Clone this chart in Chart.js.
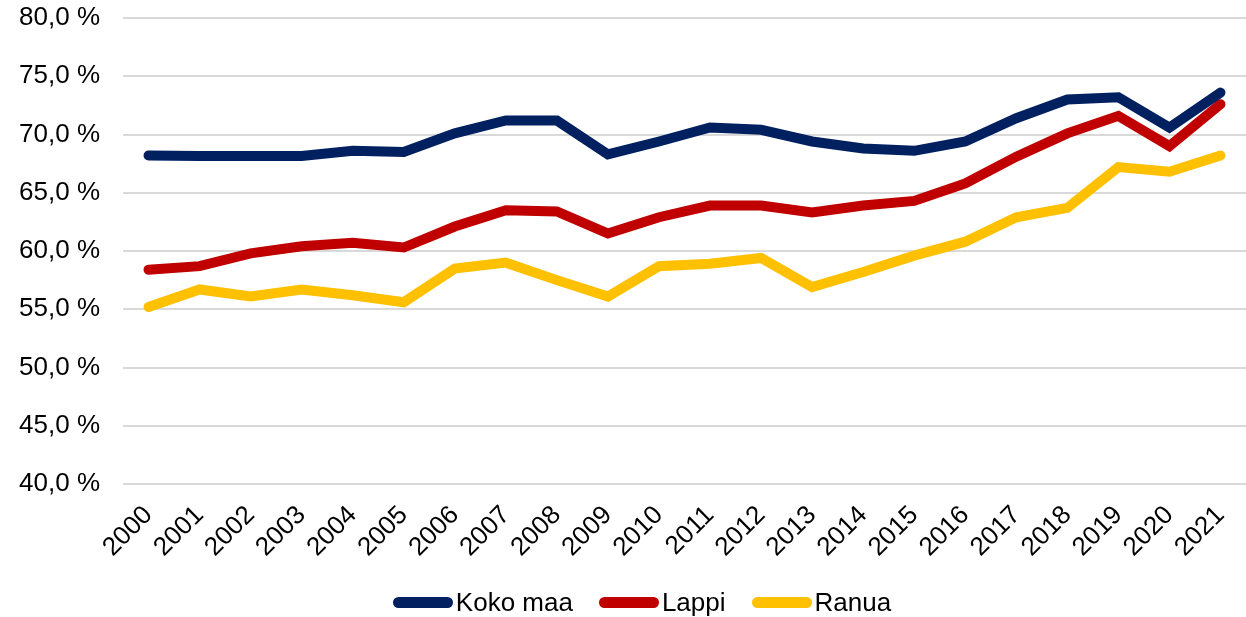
<!DOCTYPE html>
<html>
<head>
<meta charset="utf-8">
<script src="https://cdn.jsdelivr.net/npm/chart.js@4"></script>
<style>
  html, body { margin: 0; padding: 0; background: #fff; overflow: hidden; }
  #wrap { position: relative; width: 1246px; height: 617px; }
  #legend {
    position: absolute; left: 19px; top: 587px; width: 1246px;
    display: flex; justify-content: center; align-items: center;
    font-family: 'Liberation Sans', Arial, sans-serif; font-size: 26px; color: #000;
  }
  .item { display: flex; align-items: center; margin: 0 13px; }
  .swatch { width: 60px; height: 11px; border-radius: 6px; margin-right: 3px; }
</style>
</head>
<body>
<div id="wrap">
  <canvas id="chart_1"></canvas>
  <div id="legend"></div>
</div>
<script>
const years = ["2000", "2001", "2002", "2003", "2004", "2005", "2006", "2007", "2008", "2009", "2010",
  "2011", "2012", "2013", "2014", "2015", "2016", "2017", "2018", "2019", "2020", "2021"];
const koko_maa = [68.2, 68.15, 68.15, 68.15, 68.6, 68.5, 70.1, 71.2, 71.2, 68.3, 69.4,
  70.6, 70.4, 69.4, 68.8, 68.6, 69.4, 71.4, 73.0, 73.2, 70.6, 73.6];
const lappi = [58.4, 58.7, 59.8, 60.4, 60.7, 60.3, 62.1, 63.5, 63.4, 61.5, 62.9,
  63.9, 63.9, 63.3, 63.9, 64.3, 65.8, 68.1, 70.1, 71.6, 69.0, 72.6];
const ranua = [55.2, 56.7, 56.1, 56.7, 56.2, 55.6, 58.5, 59.0, 57.5, 56.1, 58.7,
  58.9, 59.4, 56.9, 58.2, 59.6, 60.8, 62.9, 63.7, 67.2, 66.8, 68.2];
const labels = ["Koko maa", "Lappi", "Ranua"];
const colors = ["#002060", "#c00000", "#ffc000"];

Chart.defaults.font.family = "'Liberation Sans', Arial, sans-serif";
Chart.defaults.color = "#000";

function make_dataset(label, data, color) {
  return {
    label: label,
    data: data,
    borderColor: color,
    backgroundColor: color,
    borderWidth: 10,
    borderCapStyle: "round",
    borderJoinStyle: "miter",
    pointRadius: 0,
    tension: 0
  };
}

// html legend, same order as the datasets
for (let i = 0; i < labels.length; i++) {
  const item = document.createElement("div");
  item.className = "item";
  const sw = document.createElement("span");
  sw.className = "swatch";
  sw.style.background = colors[i];
  const txt = document.createElement("span");
  txt.textContent = labels[i];
  item.appendChild(sw);
  item.appendChild(txt);
  document.getElementById("legend").appendChild(item);
}

const ctx = document.getElementById("chart_1").getContext("2d");
new Chart(ctx, {
  type: "line",
  data: {
    labels: years,
    datasets: [
      make_dataset(labels[0], koko_maa, colors[0]),
      make_dataset(labels[1], lappi, colors[1]),
      make_dataset(labels[2], ranua, colors[2])
    ]
  },
  options: {
    responsive: true,
    maintainAspectRatio: false,
    animation: false,
    layout: { padding: { top: 18, right: 0, left: 0, bottom: 43 } },
    plugins: {
      tooltip: { enabled: false },
      legend: { display: false }
    },
    scales: {
      x: {
        offset: true,
        grid: { display: false },
        border: { display: false },
        afterFit: function(scale) {
          scale.paddingLeft = 0;
          scale.paddingRight = 0;
          scale.height = 90;
        },
        ticks: {
          font: { size: 26 },
          maxRotation: 45,
          minRotation: 45,
          autoSkip: false,
          padding: 8
        }
      },
      y: {
        min: 40,
        max: 80,
        border: { display: false },
        grid: { color: "#d9d9d9", lineWidth: 2, drawTicks: false },
        afterFit: function(scale) {
          scale.paddingTop = 0;
          scale.paddingBottom = 0;
          scale.width = 123;
        },
        ticks: {
          stepSize: 5,
          padding: 23,
          font: { size: 26 },
          callback: function(value) {
            return value.toFixed(1).replace(".", ",") + " %";
          }
        }
      }
    }
  }
});
</script>
</body>
</html>
